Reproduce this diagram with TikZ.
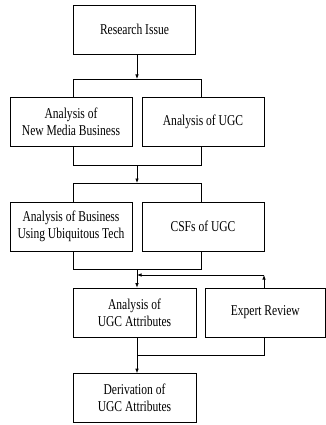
\documentclass[tikz,border=0pt]{standalone}
\usepackage{fontspec}
\setmainfont[FakeStretch=0.77]{Liberation Serif}
\usetikzlibrary{arrows.meta}
\begin{document}
\begin{tikzpicture}[x=1pt,y=-1pt,
  box/.style={draw,line width=0.7pt,minimum width=122pt,minimum height=49pt,align=center,inner sep=0pt,
    font=\fontsize{15}{17.4}\selectfont},
  ln/.style={line width=0.7pt},
  arr/.style={line width=0.7pt,-{Latex[length=4.5pt,width=3.5pt]}}]
\useasboundingbox (0,0) rectangle (326,425);
\node[box] (RI) at (134.5,29.5) {Research Issue};
\node[box] (A1) at (71,122) {Analysis of\\New Media Business};
\node[box] (A2) at (203,122) {Analysis of UGC};
\node[box] (B1) at (71,226.5) {Analysis of Business\\Using Ubiquitous Tech};
\node[box] (B2) at (203,226.5) {CSFs of UGC};
\node[box,minimum width=123pt] (AU) at (134.5,312.5) {Analysis of\\UGC Attributes};
\node[box,minimum width=120.5pt] (ER) at (265.25,312.5) {Expert Review};
\node[box,minimum width=123pt] (DU) at (134.5,398) {Derivation of\\UGC Attributes};
% bracket 1
\coordinate (c1) at (137,79);
\coordinate (c1l) at (73,79);
\coordinate (c1r) at (201,79);
\draw[arr] (RI.south -| c1) -- (c1);
\draw[ln] (c1l |- A1.north) -- (c1l) -- (c1r) -- (c1r |- A2.north);
% bracket 2
\coordinate (c2) at (137,165);
\coordinate (c2l) at (73,165);
\coordinate (c2r) at (201,165);
\coordinate (c3) at (137,183);
\coordinate (c3l) at (73,183);
\coordinate (c3r) at (201,183);
\draw[ln] (c2l |- A1.south) -- (c2l) -- (c2r) -- (c2r |- A2.south);
\draw[arr] (c2) -- (c3);
\draw[ln] (c3l |- B1.north) -- (c3l) -- (c3r) -- (c3r |- B2.north);
% bracket 3
\coordinate (c4) at (137,269);
\coordinate (c4l) at (73,269);
\coordinate (c4r) at (201,269);
\draw[ln] (c4l |- B1.south) -- (c4l) -- (c4r) -- (c4r |- B2.south);
\draw[arr] (c4) -- (c4 |- AU.north);
% feedback
\coordinate (f1) at (264,275);
\coordinate (f2) at (137,275);
\draw[arr] (f1 |- ER.north) -- (f1);
\draw[arr] (f1) -- (f2);
% bottom
\coordinate (g1) at (137,355);
\coordinate (g2) at (264,355);
\draw[arr] (AU.south -| g1) -- (g1 |- DU.north);
\draw[ln] (ER.south -| g2) -- (g2) -- (g1);
\end{tikzpicture}
\end{document}
